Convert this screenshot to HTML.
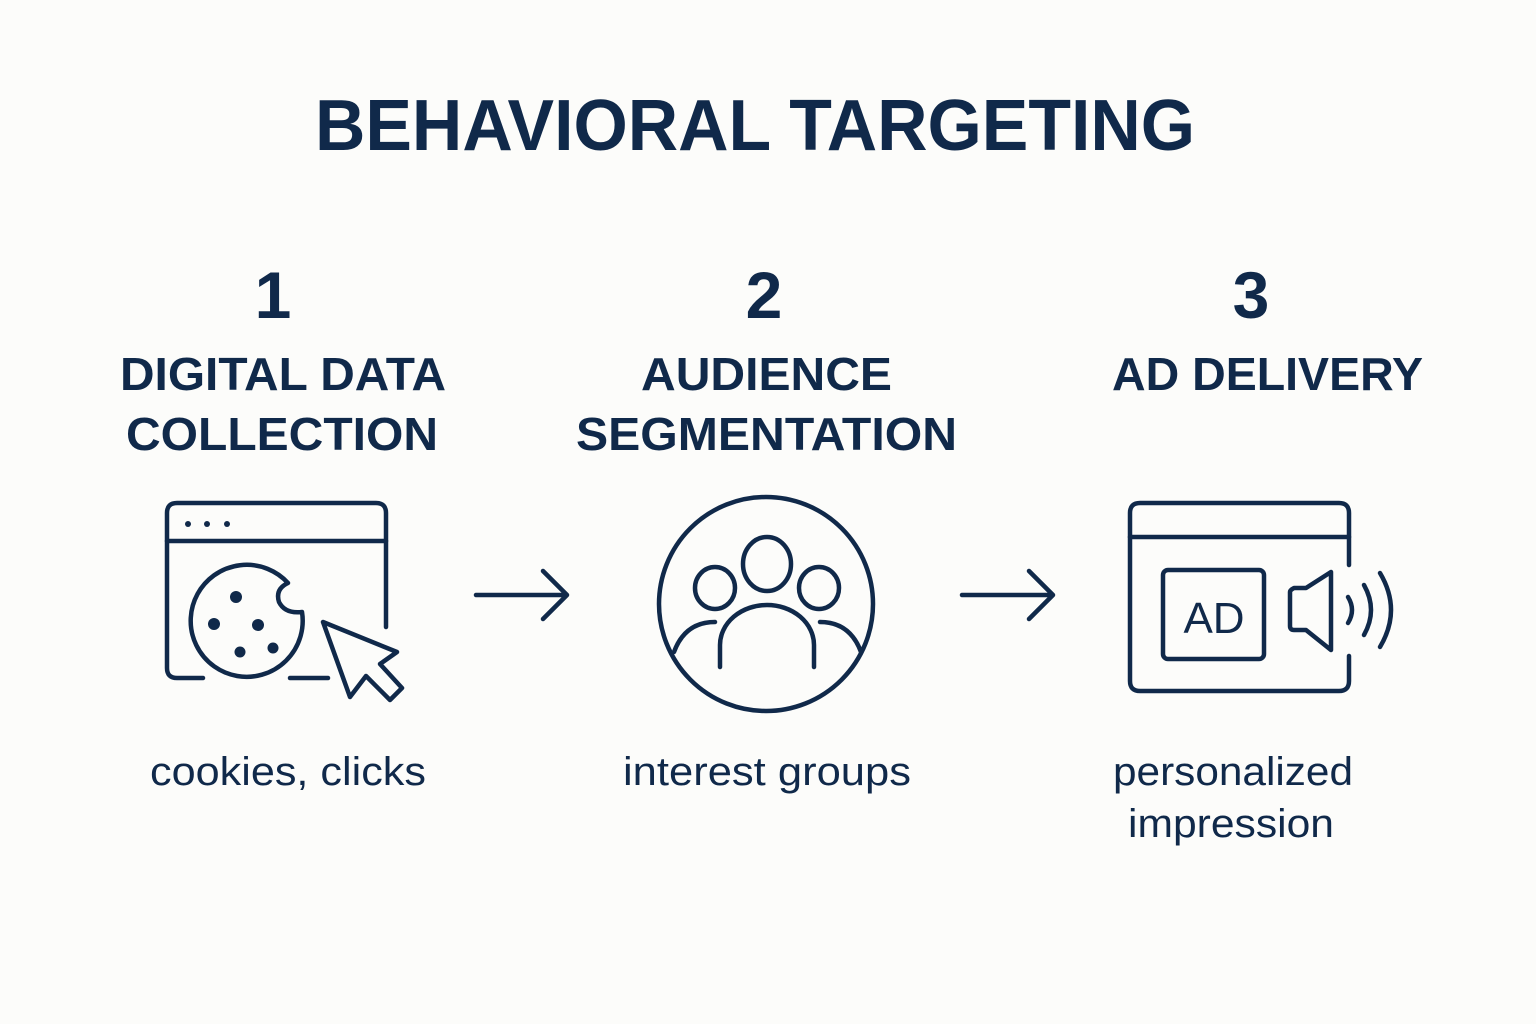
<!DOCTYPE html>
<html><head><meta charset="utf-8"><style>
html,body{margin:0;padding:0;background:#fcfcfa;}
svg{display:block}
text{font-family:"Liberation Sans",sans-serif;fill:#10294a}
.b{font-weight:bold}
</style></head><body>
<svg width="1536" height="1024" viewBox="0 0 1536 1024">
<rect width="1536" height="1024" fill="#fcfcfa"/>
<text x="755" y="150" class="b" font-size="72" text-anchor="middle" textLength="880" lengthAdjust="spacingAndGlyphs">BEHAVIORAL TARGETING</text>
<text x="273" y="318" class="b" font-size="66" text-anchor="middle">1</text>
<text x="764" y="318" class="b" font-size="66" text-anchor="middle">2</text>
<text x="1251" y="318" class="b" font-size="66" text-anchor="middle">3</text>
<g class="b" font-size="46">
<text x="120" y="390" textLength="326" lengthAdjust="spacingAndGlyphs" class="b">DIGITAL DATA</text>
<text x="126" y="450" textLength="312" lengthAdjust="spacingAndGlyphs" class="b">COLLECTION</text>
<text x="641" y="390" textLength="251" lengthAdjust="spacingAndGlyphs" class="b">AUDIENCE</text>
<text x="576" y="450" textLength="381" lengthAdjust="spacingAndGlyphs" class="b">SEGMENTATION</text>
<text x="1112" y="390" textLength="311" lengthAdjust="spacingAndGlyphs" class="b">AD DELIVERY</text>
</g>
<g font-size="40">
<text x="150" y="785" textLength="276" lengthAdjust="spacingAndGlyphs">cookies, clicks</text>
<text x="623" y="785" textLength="288" lengthAdjust="spacingAndGlyphs">interest groups</text>
<text x="1113" y="785" textLength="240" lengthAdjust="spacingAndGlyphs">personalized</text>
<text x="1128" y="837" textLength="206" lengthAdjust="spacingAndGlyphs">impression</text>
</g>
<g fill="none" stroke="#10294a" stroke-width="4.5" stroke-linecap="round" stroke-linejoin="round">
<path d="M476 595H567M543 571L567 595L543 619"/>
<path d="M962 595H1053M1029 571L1053 595L1029 619"/>
<path d="M203 678H177Q167 678 167 668V513Q167 503 177 503H376Q386 503 386 513V627"/>
<path d="M167 541H386"/>
<path d="M290 678H328"/>
<path d="M288 583A56 56 0 1 0 302 612Q285 614 279 602Q275 589 288 583Z"/>
<path d="M323 622L397 652L380 664L402 688L390 700L366 676L350 697Z"/>
<circle cx="766" cy="604" r="107"/>
<ellipse cx="767" cy="564" rx="24" ry="27"/>
<ellipse cx="715" cy="588" rx="20" ry="21"/>
<ellipse cx="819" cy="588" rx="20" ry="21"/>
<path d="M720 667V645A47 40 0 0 1 814 645V667"/>
<path d="M715 622Q685 622 674 652"/>
<path d="M820 622Q850 622 861 652"/>
<path d="M1349 565V513Q1349 503 1339 503H1140Q1130 503 1130 513V681Q1130 691 1140 691H1339Q1349 691 1349 681V656"/>
<path d="M1130 537H1349"/>
<rect x="1163" y="570" width="101" height="89" rx="5"/>
<path d="M1290 592Q1290 590 1294 588L1306 588L1331 572V650L1306 630L1294 630Q1290 630 1290 626Z"/>
<path d="M1348 597Q1356 610 1348 623"/>
<path d="M1364 585Q1378 610 1364 635"/>
<path d="M1380 573Q1402 610 1380 647"/>
</g>
<g fill="#10294a">
<circle cx="188" cy="524" r="3"/><circle cx="207" cy="524" r="3"/><circle cx="227" cy="524" r="3"/>
<circle cx="236" cy="597" r="6"/><circle cx="214" cy="624" r="6"/><circle cx="258" cy="625" r="6"/><circle cx="240" cy="652" r="5.5"/><circle cx="273" cy="648" r="5.5"/>
</g>
<text x="1214" y="633" font-size="44" text-anchor="middle">AD</text>
</svg>
</body></html>
